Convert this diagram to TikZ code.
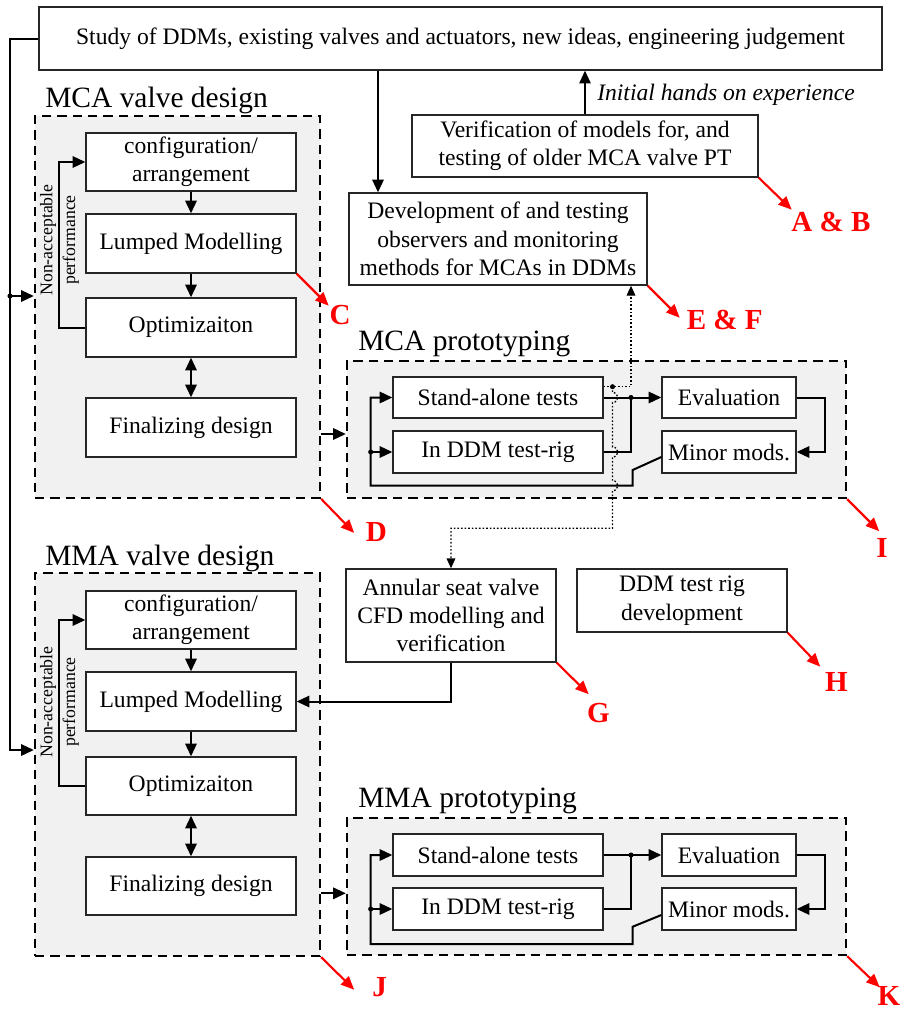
\documentclass[tikz,border=0pt]{standalone}
\usepackage{fontspec}
\setmainfont{Liberation Serif}
\usetikzlibrary{arrows.meta,calc}
\definecolor{panelgray}{HTML}{F1F1F1}
\definecolor{mred}{HTML}{FF0000}
\newcommand{\bodyfnt}{\fontsize{17.7}{21.3}\selectfont}
\newcommand{\titlefnt}{\fontsize{22.1}{26}\selectfont}
\newcommand{\redfnt}{\fontsize{21.8}{26}\selectfont\bfseries}
\newcommand{\rotfnt}{\fontsize{13.3}{17.2}\selectfont}
\begin{document}
\begin{tikzpicture}[x=0.75pt,y=-0.75pt,
  >={Triangle[length=9.5pt,width=8.5pt]},
  sz/.style 2 args={minimum width=0.75pt*#1, minimum height=0.75pt*#2},
  box/.style={draw=black!85, line width=1pt, fill=white, align=center, inner sep=0pt, font=\bodyfnt},
  panel/.style={draw=black, line width=1.75pt, dash pattern=on 7pt off 4.5pt, fill=panelgray, inner sep=0pt},
  ttl/.style={anchor=base west, inner sep=0pt, font=\titlefnt},
  conn/.style={draw=black, line width=1.5pt},
  dotline/.style={draw=black, line width=1pt, dash pattern=on 1.2pt off 1.5pt, -{Triangle[length=7.5pt,width=6.5pt]}},
  redarr/.style={draw=mred, line width=1.6pt, -{Triangle[length=10pt,width=8.5pt]}},
  redlbl/.style={text=mred, font=\redfnt, inner sep=0pt},
  rot/.style={rotate=90, align=center, font=\rotfnt, inner sep=0pt}
]
\useasboundingbox (0,0) rectangle (908,1010);

% panels
\node[panel, sz={285}{381.7}] (mcav) at (177.5,306.85) {};
\node[panel, sz={285}{383}] (mmav) at (177.5,764.5) {};
\node[panel, sz={499}{137}] (mcap) at (596.5,429.5) {};
\node[panel, sz={499}{137}] (mmap) at (596.5,886.5) {};

\node[ttl] (t1) at (45,107.5) {MCA valve design};
\node[ttl] (t2) at (45,565.7) {MMA valve design};
\node[ttl] (t3) at (358,350.7) {MCA prototyping};
\node[ttl] (t4) at (358,807.3) {MMA prototyping};

% top boxes
\node[box, sz={843}{63}] (top) at (460.5,38.5) {Study of DDMs, existing valves and actuators, new ideas, engineering judgement};
\node[box, sz={346}{62}] (verif) at (585,146) {Verification of models for, and\\testing of older MCA valve PT};
\node[box, sz={298}{92}] (dev) at (498,239) {Development of and testing\\observers and monitoring\\methods for MCAs in DDMs};
\node[anchor=base west, inner sep=0pt, font=\bodyfnt\itshape] (ihe) at (597,100) {Initial hands on experience};

% MCA valve design
\node[box, sz={210}{58}] (cfg1) at (191,162) {configuration/\\arrangement};
\node[box, sz={210}{59}] (lum1) at (191,243.5) {Lumped Modelling};
\node[box, sz={210}{59}] (opt1) at (191,327.5) {Optimizaiton};
\node[box, sz={210}{59}] (fin1) at (191,427.5) {Finalizing design};

% MMA valve design
\node[box, sz={210}{58}] (cfg2) at (191,620) {configuration/\\arrangement};
\node[box, sz={210}{59}] (lum2) at (191,701.5) {Lumped Modelling};
\node[box, sz={210}{58}] (opt2) at (191,786) {Optimizaiton};
\node[box, sz={210}{58}] (fin2) at (191,886) {Finalizing design};

% MCA prototyping
\node[box, sz={210}{41}] (st1) at (498,397.5) {Stand-alone tests};
\node[box, sz={210}{42}] (dd1) at (498,452) {In DDM test-rig};
\node[box, sz={134}{41}] (ev1) at (729,397.5) {Evaluation};
\node[box, sz={134}{42}] (mm1) at (729,452) {Minor mods.};

% MMA prototyping
\node[box, sz={210}{42}] (st2) at (498,855) {Stand-alone tests};
\node[box, sz={210}{42}] (dd2) at (498,909) {In DDM test-rig};
\node[box, sz={134}{42}] (ev2) at (729,855) {Evaluation};
\node[box, sz={134}{42}] (mm2) at (729,909) {Minor mods.};

% middle boxes
\node[box, sz={210}{93}] (ann) at (451,615.5) {Annular seat valve\\CFD modelling and\\verification};
\node[box, sz={210}{63}] (rig) at (682,600.5) {DDM test rig\\development};

% left feed line
\coordinate (L1) at (10,38.5);
\coordinate (L2) at (10,296);
\coordinate (L3) at (10,750);
\draw[conn,->] (top.west) -- (L1) -- (L3) -- (L3 -| mmav.west);
\draw[conn,->] (L2) -- (L2 -| mcav.west);
\fill (L2) circle (1.9pt);

% top arrows
\coordinate (X1) at (378,0);
\draw[conn,->] (top.south -| X1) -- (dev.north -| X1);
\draw[line width=1.1pt,->] (verif.north) -- (verif.north |- top.south);

% valve design internals
\draw[conn,->] (cfg1.south) -- (lum1.north);
\draw[conn,->] (lum1.south) -- (opt1.north);
\draw[conn,<->] (opt1.south) -- (fin1.north);
\draw[conn,->] (opt1.west) -- ++(-26,0) |- (cfg1.west);
\node[rot] (na1) at (59.5,240) {Non-acceptable\\performance};

\draw[conn,->] (cfg2.south) -- (lum2.north);
\draw[conn,->] (lum2.south) -- (opt2.north);
\draw[conn,<->] (opt2.south) -- (fin2.north);
\draw[conn,->] (opt2.west) -- ++(-26,0) |- (cfg2.west);
\node[rot] (na2) at (59.5,702) {Non-acceptable\\performance};

% design -> prototyping
\coordinate (P1) at (0,434);
\coordinate (P2) at (0,893.3);
\draw[conn,->] (mcav.east |- P1) -- (mcap.west |- P1);
\draw[conn,->] (mmav.east |- P2) -- (mmap.west |- P2);

% MCA prototyping loop
\coordinate (J1) at (631,397.5);
\coordinate (D1) at (370.7,452);
\draw[conn] (st1.east) -- (J1);
\draw[conn,->] (J1) -- (ev1.west);
\draw[conn] (dd1.east) -| (J1);
\fill (J1) circle (1.9pt);
\draw[conn,->] (ev1.east) -- ++(28.3,0) |- (mm1.east);
\draw[conn,->] ($(mm1.west)+(0,5)$) -- (632.7,470) -- (632.7,485.7) -- (370.7,485.7) |- (st1.west);
\draw[conn,->] (D1) -- (dd1.west);
\fill (D1) circle (1.9pt);

% MMA prototyping loop
\coordinate (J2) at (631,855);
\coordinate (D2) at (370.7,909);
\draw[conn] (st2.east) -- (J2);
\draw[conn,->] (J2) -- (ev2.west);
\draw[conn] (dd2.east) -| (J2);
\fill (J2) circle (1.9pt);
\draw[conn,->] (ev2.east) -- ++(28.3,0) |- (mm2.east);
\draw[conn,->] ($(mm2.west)+(0,6)$) -- (632.7,926.7) -- (632.7,944) -- (370.7,944) |- (st2.west);
\draw[conn,->] (D2) -- (dd2.west);
\fill (D2) circle (1.9pt);

% dotted links
\coordinate (Q0) at (612.5,386.7);
\coordinate (Q1) at (631,386.7);
\draw[dotline] (st1.east |- Q0) -- (Q1) -- (Q1 |- dev.south);
\draw[dotline] (Q0) -- (612.5,392.5) .. controls (619.5,392.5) and (619.5,402.5) .. (612.5,402.5)
  -- (612.5,447) .. controls (619.5,447) and (619.5,457) .. (612.5,457)
  -- (612.5,480.7) .. controls (619.5,480.7) and (619.5,490.7) .. (612.5,490.7)
  -- (612.5,528.3) -| (ann.north);
\fill (Q0) circle (1.9pt);

% annular -> MMA lumped
\draw[conn,->] (ann.south) |- (lum2.east);

% red markers
\draw[redarr] (lum1.south east) -- ++(32,32);
\node[redlbl] (lC) at (340,315) {C};
\draw[redarr] (verif.south east) -- ++(33,32);
\node[redlbl] (lAB) at (831,222) {A \& B};
\draw[redarr] (dev.south east) -- ++(32,32);
\node[redlbl] (lEF) at (724.7,320) {E \& F};
\draw[redarr] (mcav.south east) -- ++(33,34);
\node[redlbl] (lD) at (376.3,531.7) {D};
\draw[redarr] (ann.south east) -- ++(32,31.5);
\node[redlbl] (lG) at (598.5,713.3) {G};
\draw[redarr] (rig.south east) -- ++(32.5,34);
\node[redlbl] (lH) at (836.3,681.7) {H};
\draw[redarr] (mcap.south east) -- ++(32,32);
\node[redlbl] (lI) at (882,548) {I};
\draw[redarr] (mmav.south east) -- ++(33,32.5);
\node[redlbl] (lJ) at (379.7,987.5) {J};
\draw[redarr] (mmap.south east) -- ++(32.5,31);
\node[redlbl] (lK) at (889,996) {K};
\end{tikzpicture}
\end{document}
